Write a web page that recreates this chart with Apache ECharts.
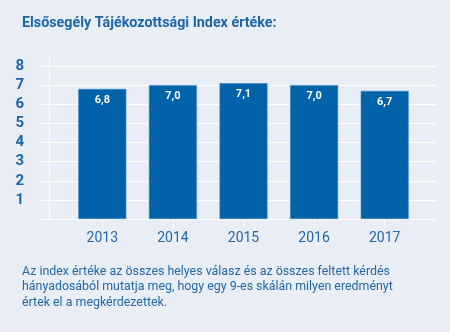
<!DOCTYPE html>
<html><head><meta charset="utf-8">
<script src="https://cdn.jsdelivr.net/npm/echarts@6/dist/echarts.min.js"></script>
<style>html,body{margin:0;padding:0;background:#e9eef6;}#c{width:450px;height:332px;}</style>
</head><body><div id="c"></div>
<script>
const title = 'Elsősegély Tájékozottsági Index értéke:';
const categories = ['2013', '2014', '2015', '2016', '2017'];
const values = [6.8, 7.0, 7.1, 7.0, 6.7];
const noteLines = [
  'Az index értéke az összes helyes válasz és az összes feltett kérdés',
  'hányadosából mutatja meg, hogy egy 9-es skálán milyen eredményt',
  'értek el a megkérdezettek.'
];
const blue = '#0062a8';
const textBlue = '#2468a8';
const chart = echarts.init(document.getElementById('c'), null, {renderer: 'canvas'});
chart.setOption({
  backgroundColor: '#e9eef6',
  animation: false,
  title: [{
    text: title, left: 17, top: 11,
    textStyle: {fontFamily: 'Roboto', fontWeight: 'bold', fontSize: 14.3, color: '#1d66a8'}
  }, {
    text: noteLines.join('\n'), left: 17, top: 259,
    textStyle: {fontFamily: 'Roboto', fontWeight: 'normal', fontSize: 12.4, lineHeight: 15.5, color: textBlue}
  }],
  grid: [
    {left: 67, right: 30, top: 57, bottom: 113},
    {left: 41, right: 13, top: 66, bottom: 113}
  ],
  xAxis: [{
    type: 'category', gridIndex: 0, data: categories,
    axisLine: {show: false},
    axisTick: {show: true, alignWithLabel: true, length: 9, lineStyle: {color: '#ffffff', width: 1}},
    axisLabel: {color: textBlue, fontFamily: 'Roboto', fontSize: 14, margin: 12}
  }, {
    type: 'category', gridIndex: 1, data: categories, show: false
  }],
  yAxis: [{
    type: 'value', gridIndex: 0, min: 0, max: 8.47,
    offset: 18,
    axisLine: {show: true, lineStyle: {color: '#ffffff', width: 1}},
    axisTick: {show: false}, axisLabel: {show: false}, splitLine: {show: false}
  }, {
    type: 'value', gridIndex: 1, min: 0, max: 8, interval: 1,
    axisLine: {show: false}, axisTick: {show: false},
    axisLabel: {
      color: '#1d66a8', fontFamily: 'Roboto', fontWeight: 'bold', fontSize: 15, margin: 17,
      formatter: v => v === 0 ? '' : String(v)
    },
    splitLine: {show: true, lineStyle: {color: '#ffffff', width: 1}}
  }],
  series: [{
    type: 'bar', xAxisIndex: 0, yAxisIndex: 0, data: values, barWidth: 48,
    itemStyle: {color: blue, borderColor: '#3f86c4', borderWidth: 0.6},
    label: {
      show: true, position: 'insideTop', distance: 6, color: '#ffffff',
      fontFamily: 'Roboto', fontWeight: 'bold', fontSize: 11,
      formatter: p => p.value.toFixed(1).replace('.', ',')
    }
  }]
});
</script></body></html>
